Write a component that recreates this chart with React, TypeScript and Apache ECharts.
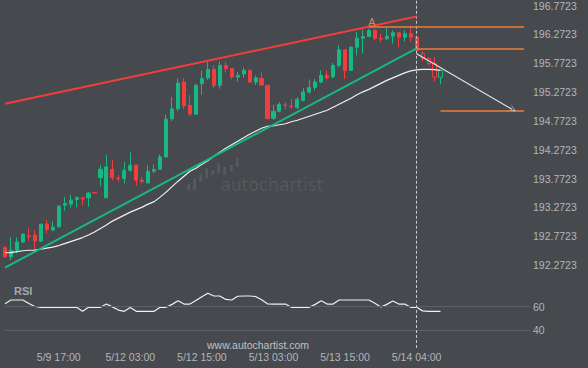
import React, { useEffect, useRef } from 'react';
import * as echarts from 'echarts';

// Price axis levels end in .x723: values are shifted by this offset for the axis scale
const OFFSET = 0.2723;

const BG = '#46494e';
const UP = '#17b882';
const DOWN = '#f23d3d';
const ORANGE = '#f07b34';
const TEXT = '#b3b6ba';

// Hourly candles (index 0..73)
const opens = [192.5733, 192.4176, 192.5335, 192.672, 192.781, 192.7931, 192.6893, 192.9834, 192.8796, 192.9367,
  193.3121, 193.3294, 193.4107, 193.4332, 193.4384, 193.5335, 193.7913, 193.4384, 193.9297, 193.7792,
  193.774, 193.9176, 194.0041, 193.7446, 193.6979, 193.9003, 193.9349, 194.1477, 194.8086, 194.9816,
  195.4453, 195.0422, 194.8865, 195.4176, 195.5145, 195.665, 195.3882, 195.7342, 195.6823, 195.5318,
  195.5837, 195.6477, 195.4453, 195.5093, 195.3882, 194.8173, 194.9384, 195.0491, 195.0284, 195.0041,
  195.1287, 195.2723, 195.3501, 195.4453, 195.5612, 195.5353, 195.7342, 196.0059, 195.6477, 196.0508,
  196.2066, 196.236, 196.3398, 196.2014, 196.1962, 196.2412, 196.3, 196.2239, 196.2827, 196.2239,
  195.9419, 195.8553, 195.7636, 195.5266];
const closes = [192.4176, 192.5335, 192.672, 192.8104, 192.7706, 192.6893, 192.9834, 192.8917, 192.9315, 193.2948,
  193.3415, 193.3986, 193.4419, 193.4194, 193.5197, 193.5232, 193.9349, 193.9747, 193.7913, 193.7688,
  193.9176, 194.0041, 193.7446, 193.7187, 193.9003, 193.9297, 194.1477, 194.8, 194.9816, 195.428,
  195.0335, 194.8899, 195.3882, 195.5093, 195.665, 195.3882, 195.7342, 195.6823, 195.5318, 195.5612,
  195.6477, 195.4453, 195.518, 195.3934, 194.8121, 194.9384, 195.0595, 195.0387, 195.018, 195.146,
  195.2723, 195.3501, 195.4453, 195.5612, 195.5145, 195.7342, 196.0059, 195.6477, 196.0508, 196.2066,
  196.236, 196.3398, 196.2066, 196.191, 196.2412, 196.3, 196.2239, 196.2827, 196.2239, 195.9938,
  195.8553, 195.7636, 195.5318, 195.6477];
const lows = [192.3951, 192.3605, 192.4765, 192.6599, 192.6945, 192.5335, 192.6772, 192.8225, 192.8623, 192.9263,
  193.2135, 193.2723, 193.2775, 193.3121, 193.2827, 193.5197, 193.6408, 193.4332, 193.7446, 193.7152,
  193.6875, 193.883, 193.6495, 193.6875, 193.6875, 193.8605, 193.9263, 194.1425, 194.7654, 194.9384,
  194.973, 194.8605, 194.8813, 195.2239, 195.4834, 195.3311, 195.3311, 195.6131, 195.492, 195.4488,
  195.518, 195.428, 195.3934, 195.3882, 194.7948, 194.7879, 194.9211, 194.973, 194.9851, 194.973,
  195.1114, 195.2446, 195.3017, 195.4228, 195.492, 195.5093, 195.6996, 195.4972, 195.6391, 195.9072,
  195.9367, 196.2239, 196.1668, 196.1374, 196.1668, 196.1097, 196.0508, 196.1495, 196.1374, 195.9419,
  195.8034, 195.7342, 195.4574, 195.4055];
const highs = [192.6028, 192.7533, 192.7533, 192.8225, 192.909, 192.8796, 192.9834, 193.0526, 193.0353, 193.3121,
  193.4557, 193.4851, 193.4678, 193.4592, 193.5422, 193.537, 194.0041, 194.1771, 194.0906, 193.8311,
  194.0612, 194.2239, 194.0128, 193.8017, 194.0041, 194.0162, 194.1893, 194.8813, 195.1858, 195.5041,
  195.518, 195.2204, 195.4176, 195.6391, 195.7948, 195.7342, 195.8034, 195.7948, 195.6823, 195.6183,
  195.6996, 195.665, 195.5612, 195.6183, 195.3969, 195.0543, 195.0993, 195.0993, 195.1547, 195.1858,
  195.345, 195.492, 195.5007, 195.6477, 195.6425, 195.7775, 196.0803, 196.0145, 196.063, 196.3104,
  196.3571, 196.3692, 196.3692, 196.2827, 196.3796, 196.3398, 196.3086, 196.3398, 196.4263, 196.2239,
  195.9851, 195.8778, 195.8778, 195.6477];

// Moving average (white line)
const maValues = [192.4868, 192.4903, 192.5076, 192.5214, 192.5301, 192.5335, 192.5474, 192.5682, 192.5855, 192.6114,
  192.646, 192.6806, 192.7152, 192.7498, 192.7931, 192.845, 192.9055, 192.9661, 193.0353, 193.0872,
  193.1391, 193.191, 193.2342, 193.2775, 193.3294, 193.3727, 193.4505, 193.537, 193.6322, 193.7273,
  193.8138, 193.9003, 193.9522, 194.0214, 194.082, 194.1598, 194.2291, 194.2983, 194.3588, 194.4194,
  194.4799, 194.5405, 194.5924, 194.6443, 194.6789, 194.6875, 194.7048, 194.7221, 194.7567, 194.7827,
  194.8173, 194.8519, 194.8865, 194.9211, 194.9557, 195.0076, 195.0595, 195.1114, 195.1633, 195.2239,
  195.2758, 195.319, 195.3709, 195.4228, 195.4747, 195.518, 195.5612, 195.6045, 195.6391, 195.6564,
  195.665, 195.665, 195.6598, 195.6477];

// RSI
const rsiValues = [62.5, 65.7, 65.7, 65.7, 62.8, 60.2, 59.5, 59.5, 59.5, 59.5,
  59.5, 59.5, 59.5, 56.1, 59.5, 59.5, 59.5, 62.3, 59.9, 57.2,
  56.1, 59.3, 56.1, 56.1, 56.1, 56.1, 59.5, 59.5, 62.0, 65.1,
  62.3, 62.3, 65.2, 68.5, 71.4, 69.1, 69.1, 66.2, 65.7, 68.9,
  69.1, 69.1, 68.7, 65.9, 62.5, 62.3, 62.3, 62.3, 59.5, 59.5,
  59.5, 59.5, 62.0, 65.1, 62.3, 62.3, 65.7, 65.7, 65.7, 65.7,
  65.7, 65.7, 62.9, 59.8, 62.0, 64.9, 62.3, 62.3, 59.5, 59.5,
  56.5, 56.1, 56.1, 56.1];

const xLabelIndex = [9, 21, 33, 45, 57, 69];
const xLabelText = ['5/9 17:00', '5/12 03:00', '5/12 15:00', '5/13 03:00', '5/13 15:00', '5/14 04:00'];
const slotCount = 89;
const patternEnd = 69;

const resistanceX = [0, 69];
const resistanceY = [195.0681, 196.582];
const supportX = [0, 69];
const supportY = [192.229, 196.028];
const levelStart = [61, 69, 73];
const levelEnd = 87;
const levelPrice = [196.409, 196.023, 194.9557];
const forecastX = [69, 85];
const forecastY = [195.9367, 194.973];
const pointAIndex = 61;
const rsiLevels = [60, 40];

export default function App() {
  const ref = useRef<HTMLDivElement>(null);
  useEffect(() => {
    if (!ref.current) return;
    const chart = echarts.init(ref.current, undefined, { renderer: 'svg' });
    const cats = Array.from({ length: slotCount }, (_, i) => String(i));
    const labelMap: Record<number, string> = {};
    xLabelIndex.forEach((ix, k) => { labelMap[ix] = xLabelText[k]; });

    const candleData = opens.map((o, i) => {
      const v = [o - OFFSET, closes[i] - OFFSET, lows[i] - OFFSET, highs[i] - OFFSET];
      if (i > patternEnd) return { value: v, itemStyle: { color: BG, color0: BG } };
      return v;
    });

    const font = 'Liberation Sans, Arial, sans-serif';

    const option: any = {
      animation: false,
      backgroundColor: BG,
      grid: [
        { left: 5, top: 0, width: 525, height: 273.77 },
        { left: 5, top: 273.7, width: 525, height: 74.34 },
      ],
      xAxis: [
        { type: 'category', gridIndex: 0, data: cats, boundaryGap: false, show: false },
        {
          type: 'category', gridIndex: 1, data: cats, boundaryGap: false,
          axisLine: { show: false }, axisTick: { show: false }, splitLine: { show: false },
          axisLabel: {
            interval: 0, color: TEXT, fontSize: 10.5, fontFamily: font, margin: 3,
            formatter: (_v: string, idx: number) => labelMap[idx] ?? '',
          },
        },
      ],
      yAxis: [
        {
          type: 'value', gridIndex: 0, position: 'right', min: 191.85, max: 196.5865, interval: 0.05,
          axisLine: { show: false }, axisTick: { show: false }, splitLine: { show: false },
          axisLabel: {
            color: TEXT, fontSize: 10.5, fontFamily: font, margin: 3,
            formatter: (v: number) => {
              const k = v * 2;
              return Math.abs(k - Math.round(k)) < 1e-6 ? (v + OFFSET).toFixed(4) : '';
            },
          },
        },
        {
          type: 'value', gridIndex: 1, position: 'right', min: 25, max: 88, interval: 5,
          axisLine: { show: false }, axisTick: { show: false }, splitLine: { show: false },
          axisLabel: {
            color: TEXT, fontSize: 10.5, fontFamily: font, margin: 3,
            formatter: (v: number) => (rsiLevels.includes(Math.round(v)) && Math.abs(v - Math.round(v)) < 1e-6 ? String(Math.round(v)) : ''),
          },
        },
      ],
      series: [
        {
          type: 'candlestick', xAxisIndex: 0, yAxisIndex: 0, data: candleData, barWidth: 3.6,
          itemStyle: { color: UP, color0: DOWN, borderColor: UP, borderColor0: DOWN, borderWidth: 1 },
          markLine: {
            silent: true, symbol: ['none', 'none'], label: { show: false },
            data: [
              { xAxis: patternEnd, lineStyle: { color: '#c8cbce', width: 1, type: [3, 2] } },
              [
                { coord: [resistanceX[0], resistanceY[0] - OFFSET], lineStyle: { color: DOWN, width: 2, type: 'solid' } },
                { coord: [resistanceX[1], resistanceY[1] - OFFSET] },
              ],
              [
                { coord: [supportX[0], supportY[0] - OFFSET], lineStyle: { color: UP, width: 2, type: 'solid' } },
                { coord: [supportX[1], supportY[1] - OFFSET] },
              ],
              ...levelPrice.map((p, k) => [
                { coord: [levelStart[k], p - OFFSET], lineStyle: { color: ORANGE, width: 1.5, type: 'solid' } },
                { coord: [levelEnd, p - OFFSET] },
              ]),
            ],
          },
          markPoint: {
            silent: true, symbol: 'circle', symbolSize: 1, itemStyle: { color: 'rgba(0,0,0,0)' },
            label: { show: true, position: 'top', distance: 1, offset: [3, 0], formatter: 'A', color: '#d9875a', fontSize: 11, fontFamily: font },
            data: [{ coord: [pointAIndex, highs[pointAIndex] - OFFSET] }],
          },
        },
        {
          type: 'line', xAxisIndex: 0, yAxisIndex: 0, data: maValues.map((v) => v - OFFSET),
          symbol: 'none', lineStyle: { color: '#f0f0f0', width: 1.2 }, silent: true,
          markLine: {
            silent: true, symbol: ['none', 'path://M0,10L5,0L10,10L5,2Z'], symbolSize: [8, 8], label: { show: false },
            data: [[
              { coord: [forecastX[0], forecastY[0] - OFFSET], lineStyle: { color: '#e6e6e6', width: 1.2, type: 'solid' } },
              { coord: [forecastX[1], forecastY[1] - OFFSET] },
            ]],
          },
        },
        {
          type: 'line', xAxisIndex: 1, yAxisIndex: 1, data: rsiValues,
          symbol: 'none', lineStyle: { color: '#f0f0f0', width: 1.2 }, silent: true,
          markLine: {
            silent: true, symbol: ['none', 'none'], label: { show: false },
            data: [
              ...rsiLevels.map((l) => ({ yAxis: l, lineStyle: { color: '#5c6065', width: 1, type: 'solid' } })),
              { xAxis: patternEnd, lineStyle: { color: '#c8cbce', width: 1, type: [3, 2] } },
            ],
          },
        },
      ],
      graphic: [
        {
          type: 'group', silent: true, z: -1,
          children: [
            { type: 'rect', shape: { x: 187.3, y: 184, width: 2.7, height: 6 }, style: { fill: 'rgba(255,255,255,0.09)' } },
            { type: 'rect', shape: { x: 193.3, y: 178.3, width: 2.7, height: 11.7 }, style: { fill: 'rgba(255,255,255,0.09)' } },
            { type: 'rect', shape: { x: 199.3, y: 173.3, width: 2.7, height: 8.4 }, style: { fill: 'rgba(255,255,255,0.09)' } },
            { type: 'rect', shape: { x: 205.3, y: 168.3, width: 2.7, height: 10 }, style: { fill: 'rgba(255,255,255,0.09)' } },
            { type: 'rect', shape: { x: 211.3, y: 170, width: 2.7, height: 5 }, style: { fill: 'rgba(255,255,255,0.09)' } },
            { type: 'rect', shape: { x: 217.3, y: 163.3, width: 2.7, height: 10 }, style: { fill: 'rgba(255,255,255,0.09)' } },
            { type: 'rect', shape: { x: 223.3, y: 166.7, width: 2.7, height: 8.3 }, style: { fill: 'rgba(255,255,255,0.09)' } },
            { type: 'rect', shape: { x: 230, y: 165, width: 2.7, height: 6.7 }, style: { fill: 'rgba(255,255,255,0.09)' } },
            { type: 'rect', shape: { x: 236, y: 158.3, width: 2.7, height: 8.4 }, style: { fill: 'rgba(255,255,255,0.09)' } },
            {
              type: 'text', x: 220.5, y: 184.5,
              style: { text: 'autochartist', fill: 'rgba(255,255,255,0.09)', font: '17px "DejaVu Sans", sans-serif', textVerticalAlign: 'middle', verticalAlign: 'middle' },
            },
          ],
        },
        {
          type: 'text', left: 14, top: 285, silent: true,
          style: { text: 'RSI', fill: '#a5a8ad', font: 'bold 11px "Liberation Sans", Arial, sans-serif' },
        },
        {
          type: 'text', left: 207, top: 339.5, silent: true,
          style: { text: 'www.autochartist.com', fill: '#bfc2c6', font: '10.5px "Liberation Sans", Arial, sans-serif' },
        },
      ],
    };
    chart.setOption(option);
    return () => chart.dispose();
  }, []);
  return <div ref={ref} style={{ position: 'fixed', left: 0, top: 0, width: 588, height: 368 }} />;
}
